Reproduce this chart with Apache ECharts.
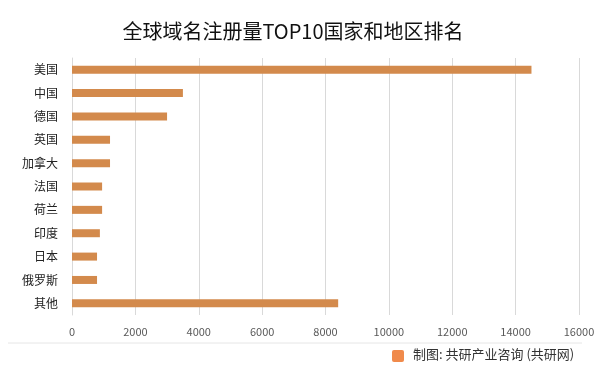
<!DOCTYPE html>
<html><head><meta charset="utf-8">
<script src="https://cdn.jsdelivr.net/npm/echarts@6/dist/echarts.min.js"></script>
<style>html,body{margin:0;padding:0;background:#fff}#c{width:600px;height:378px}</style>
</head><body><div id="c"></div>
<script>
const categories = ['美国','中国','德国','英国','加拿大','法国','荷兰','印度','日本','俄罗斯','其他'];
const values = [14500, 3500, 3000, 1200, 1200, 950, 950, 880, 790, 790, 8400];
const xTicks = [0, 2000, 4000, 6000, 8000, 10000, 12000, 14000, 16000];
const titleText = '全球域名注册量TOP10国家和地区排名';
const sourceText = '制图: 共研产业咨询 (共研网)';

const font = '"Noto Sans CJK SC", "Noto Sans", sans-serif';
const chart = echarts.init(document.getElementById('c'), null, {renderer: 'canvas'});
chart.setOption({
  backgroundColor: '#fff',
  animation: false,
  title: {
    text: titleText, left: 288, top: 16, textAlign: 'center',
    textStyle: {fontFamily: font, fontSize: 20, fontWeight: 'normal', color: '#111'}
  },
  grid: {left: 72, right: 21, top: 58, bottom: 63, containLabel: false},
  xAxis: {
    type: 'value', min: xTicks[0], max: xTicks[xTicks.length - 1], interval: 2000,
    axisLine: {show: false}, axisTick: {show: false},
    splitLine: {show: true, lineStyle: {color: '#D9D9D9', width: 1}},
    axisLabel: {color: '#595959', fontSize: 11, fontFamily: font, margin: 11,
      formatter: v => String(v)}
  },
  yAxis: {
    type: 'category', data: categories, inverse: true,
    axisLine: {show: true, lineStyle: {color: '#D9D9D9'}},
    axisTick: {show: false},
    axisLabel: {color: '#222', fontSize: 12, fontFamily: font, margin: 14}
  },
  series: [{
    type: 'bar', data: values, barWidth: 8,
    itemStyle: {color: '#D38A4C'}
  }],
  graphic: [
    {type: 'line', shape: {x1: 8, y1: 343, x2: 582, y2: 343}, style: {stroke: '#E6E6E6', lineWidth: 1}},
    {type: 'rect', shape: {x: 392, y: 350, width: 12, height: 12, r: 2}, style: {fill: '#F08A4B'}},
    {type: 'text', left: 413, top: 348, style: {text: sourceText, font: '13px ' + font, fill: '#333'}}
  ]
});
</script></body></html>
